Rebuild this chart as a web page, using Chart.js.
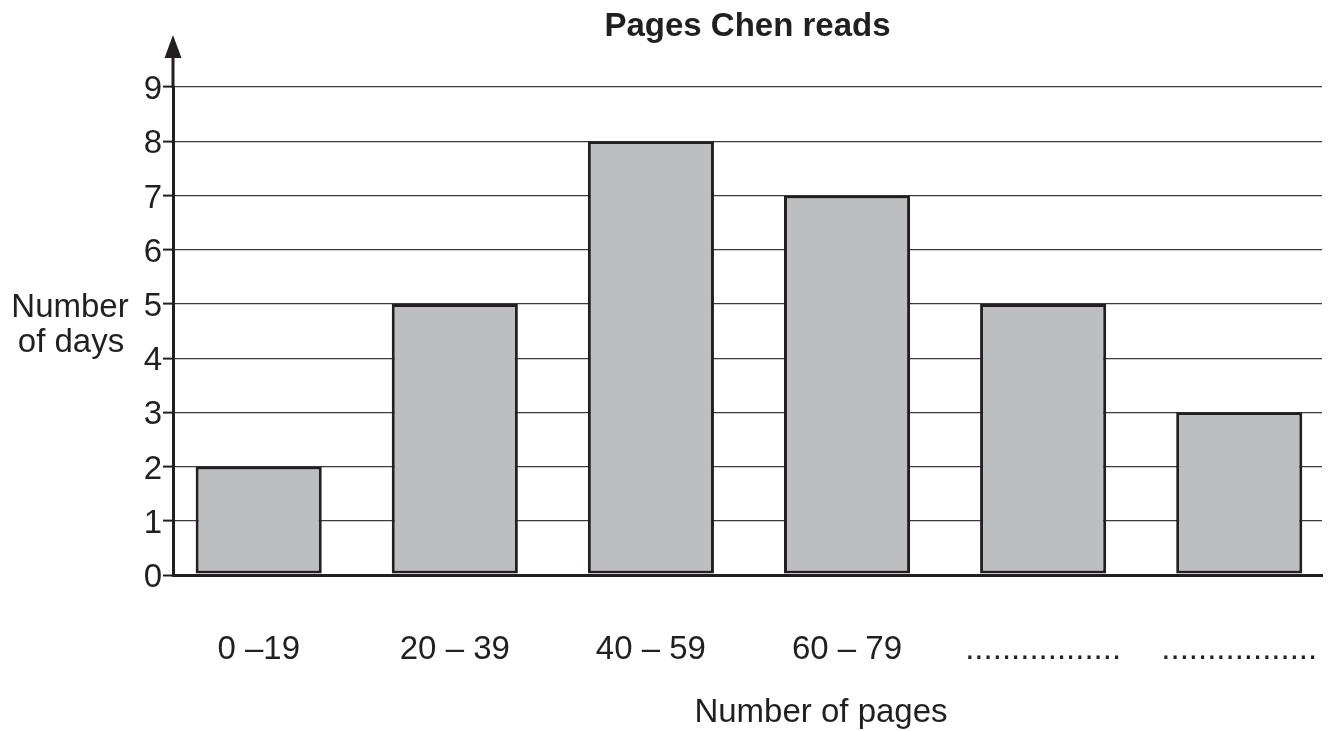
<!DOCTYPE html>
<html><head><meta charset="utf-8">
<script src="https://cdn.jsdelivr.net/npm/chart.js@4/dist/chart.umd.min.js"></script>
<style>html,body{margin:0;padding:0;background:#fff}#wrap{width:1339px;height:731px;position:relative}</style>
</head><body><div id="wrap"><canvas id="c"></canvas></div>
<script>
const chartTitle = 'Pages Chen reads';
const categories = ['0 –19', '20 – 39', '40 – 59', '60 – 79', '.................', '.................'];
const days = [2, 5, 8, 7, 5, 3];
const yTicks = [0, 1, 2, 3, 4, 5, 6, 7, 8, 9];
const xTitle = 'Number of pages';
const yTitle = ['Number', 'of days'];

const INK = '#231f20';
const FONT = "'Liberation Sans', Arial, Helvetica, sans-serif";

const decor = {
  id: 'decor',
  afterDraw(chart) {
    const ctx = chart.ctx, a = chart.chartArea;
    ctx.save();
    // axis arrow
    ctx.strokeStyle = INK; ctx.lineWidth = 3;
    ctx.beginPath(); ctx.moveTo(a.left, a.top + 1); ctx.lineTo(a.left, 52); ctx.stroke();
    ctx.fillStyle = INK;
    ctx.beginPath(); ctx.moveTo(a.left, 35); ctx.lineTo(a.left - 8.5, 58); ctx.lineTo(a.left + 8.5, 58); ctx.closePath(); ctx.fill();
    // titles
    ctx.fillStyle = INK;
    ctx.textBaseline = 'alphabetic';
    ctx.textAlign = 'center';
    ctx.font = 'bold 33px ' + FONT;
    ctx.fillText(chartTitle, (a.left + a.right) / 2, 36);
    ctx.font = '33px ' + FONT;
    ctx.fillText(xTitle, 821, 722);
    ctx.fillText(yTitle[0], 70, 317);
    ctx.fillText(yTitle[1], 71, 352);
    ctx.restore();
  }
};

new Chart(document.getElementById('c'), {
  type: 'bar',
  data: {
    datasets: [{
      data: days.map((v, i) => ({ x: i, y: v })),
      backgroundColor: '#bcbec0',
      borderColor: INK,
      borderWidth: 3,
      borderSkipped: false,
      barPercentage: 0.643,
      categoryPercentage: 1
    }]
  },
  options: {
    responsive: true,
    maintainAspectRatio: false,
    devicePixelRatio: 1,
    animation: false,
    layout: { padding: { left: 0, right: 17, top: 87, bottom: 0 } },
    plugins: { legend: { display: false }, tooltip: { enabled: false }, title: { display: false } },
    scales: {
      x: {
        type: 'linear',
        offset: false,
        bounds: 'data',
        min: -0.437,
        max: 5.422,
        afterBuildTicks: axis => { axis.ticks = categories.map((_, i) => ({ value: i })); },
        afterFit: s => { s.height = 156; s.paddingLeft = 0; s.paddingRight = 0; },
        ticks: {
          callback: v => categories[v],
          font: { family: FONT, size: 33 },
          color: INK,
          padding: 55,
          autoSkip: false,
          maxRotation: 0
        },
        grid: { display: false, drawTicks: false },
        border: { display: true, color: INK, width: 3 }
      },
      y: {
        min: 0,
        max: 9,
        afterBuildTicks: axis => { axis.ticks = yTicks.map(v => ({ value: v })); },
        afterFit: s => { s.width = 173; s.paddingTop = 0; s.paddingBottom = 0; },
        ticks: {
          font: { family: FONT, size: 33 },
          color: INK,
          padding: 1,
          labelOffset: 3
        },
        grid: {
          color: '#3a3a3a',
          lineWidth: c => (c.tick && c.tick.value === 0 ? 3 : 1.2),
          tickLength: 10,
          tickWidth: 2,
          tickColor: INK
        },
        border: { display: true, color: INK, width: 3 }
      }
    }
  },
  plugins: [decor]
});
</script>
</body></html>
